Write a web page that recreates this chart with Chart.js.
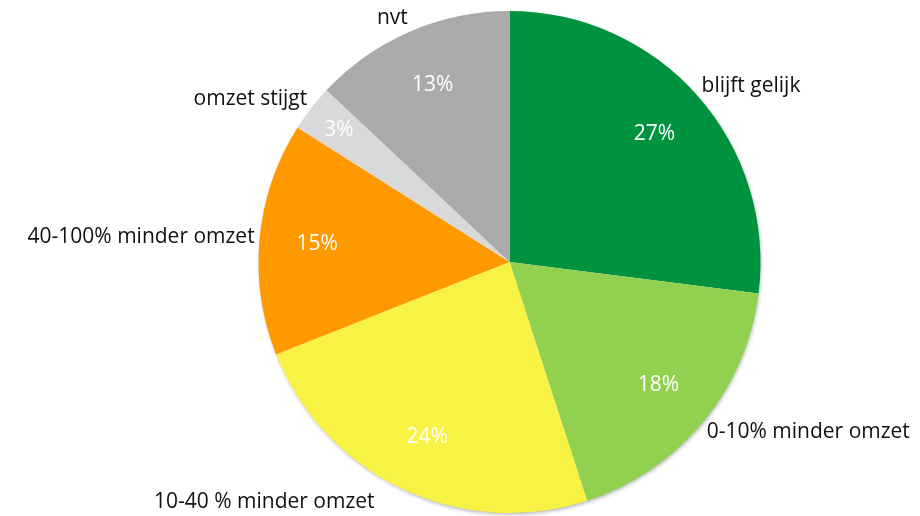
<!DOCTYPE html>
<html>
<head>
<meta charset="utf-8">
<script src="https://cdn.jsdelivr.net/npm/chart.js@4/dist/chart.umd.min.js"></script>
<style>
  html, body { margin: 0; padding: 0; background: #fff; }
  #wrap { width: 920px; height: 516px; }
</style>
</head>
<body>
<div id="wrap"><canvas id="myChart" width="920" height="516"></canvas></div>
<script>
// data
var labels = ["blijft gelijk", "0-10% minder omzet", "10-40 % minder omzet", "40-100% minder omzet", "omzet stijgt", "nvt"];
var values = [27, 18, 24, 15, 3, 13];
var colors = ["#00923F", "#92D050", "#F7F244", "#FF9900", "#D9D9D9", "#AAAAAA"];

var FONT = "21px 'Open Sans', sans-serif";

// soft shadow behind the whole pie (not between slices)
var shadowPlugin = {
  id: "pieShadow",
  beforeDatasetsDraw: function (chart) {
    var arc = chart.getDatasetMeta(0).data[0];
    if (!arc) return;
    var c = chart.ctx;
    c.save();
    c.shadowColor = "rgba(0,0,0,0.35)";
    c.shadowBlur = 4;
    c.shadowOffsetX = 1;
    c.shadowOffsetY = 2;
    c.fillStyle = "#ffffff";
    c.beginPath();
    c.arc(arc.x, arc.y, arc.outerRadius - 1, 0, Math.PI * 2);
    c.fill();
    c.restore();
  }
};

// percentages inside, category names outside
var labelPlugin = {
  id: "pieLabels",
  afterDraw: function (chart) {
    var c = chart.ctx;
    var meta = chart.getDatasetMeta(0);
    var total = values.reduce(function (a, b) { return a + b; }, 0);
    c.save();
    c.font = FONT;
    meta.data.forEach(function (arc, i) {
      var mid = (arc.startAngle + arc.endAngle) / 2;
      var r = arc.outerRadius;
      var cosA = Math.cos(mid), sinA = Math.sin(mid);

      // percent
      var pct = Math.round(values[i] / total * 100) + "%";
      var f = values[i] < 5 ? 0.86 : 0.77;
      c.fillStyle = "#ffffff";
      c.textAlign = "center";
      c.textBaseline = "middle";
      c.fillText(pct, arc.x + cosA * r * f, arc.y + sinA * r * f);

      // name
      var ax = arc.x + cosA * (r + 5);
      var ay = arc.y + sinA * (r + 5);
      c.fillStyle = "#111111";
      c.textAlign = cosA >= 0 ? "left" : "right";
      var ty = ay + 10 * sinA;
      if (ty > 502) {
        ty = 502;
        ax -= 26;
      }
      c.fillText(labels[i], ax, ty);
    });
    c.restore();
  }
};

var ctx = document.getElementById("myChart");
var chart = new Chart(ctx, {
  type: "pie",
  data: {
    labels: labels,
    datasets: [{
      data: values,
      backgroundColor: colors,
      borderWidth: 0,
      hoverOffset: 0,
      offset: 0
    }]
  },
  options: {
    responsive: false,
    animation: false,
    layout: { padding: { left: 99, right: 0, top: 11, bottom: 3 } },
    plugins: {
      legend: { display: false },
      tooltip: { enabled: false }
    }
  },
  plugins: [shadowPlugin, labelPlugin]
});
</script>
</body>
</html>
